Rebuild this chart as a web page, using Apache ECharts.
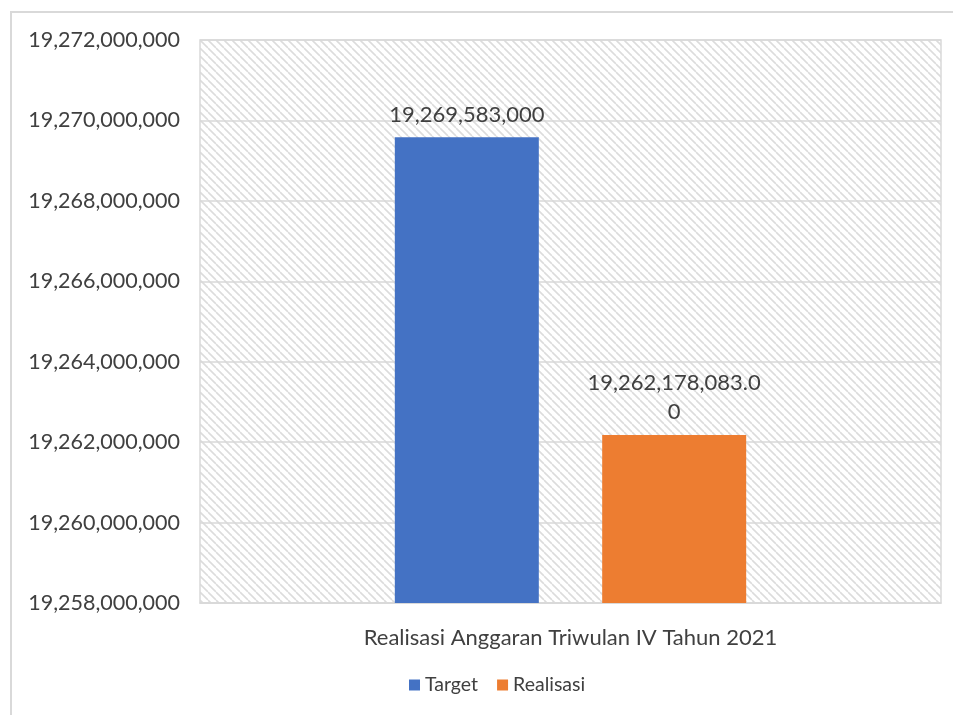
<!DOCTYPE html>
<html>
<head>
<meta charset="utf-8">
<script src="https://cdn.jsdelivr.net/npm/echarts@6/dist/echarts.min.js"></script>
<style>
  html, body { margin: 0; padding: 0; background: #fff; }
  #frame { position: absolute; left: 10px; top: 11px; width: 1200px; height: 1200px; border: 2px solid #d9d9d9; box-sizing: border-box; }
  #chart { position: absolute; left: 0; top: 0; width: 953px; height: 715px; }
</style>
</head>
<body>
<div id="frame"></div>
<div id="chart"></div>
<script>
const categories = ['Realisasi Anggaran Triwulan IV Tahun 2021'];
const seriesNames = ['Target', 'Realisasi'];
const targetValues = [19269583000];
const realisasiValues = [19262178083.00];
const yMin = 19258000000, yMax = 19272000000, yStep = 2000000;

function fmtInt(v) { return Math.round(v).toLocaleString('en-US'); }
function fmt2(v) { return v.toLocaleString('en-US', {minimumFractionDigits: 2, maximumFractionDigits: 2}); }

// hatch pattern
const pc = document.createElement('canvas');
pc.width = 8; pc.height = 8;
const ctx = pc.getContext('2d');
ctx.fillStyle = '#ffffff'; ctx.fillRect(0, 0, 8, 8);
ctx.strokeStyle = '#dcdcdc'; ctx.lineWidth = 1.6;
for (let k = -8; k <= 16; k += 8) {
  ctx.beginPath(); ctx.moveTo(k, 0); ctx.lineTo(k + 8, 8); ctx.stroke();
}

const font = 'Lato, "Open Sans", sans-serif';
const chart = echarts.init(document.getElementById('chart'));
chart.setOption({
  animation: false,
  textStyle: { fontFamily: font },
  grid: {
    left: 200, right: 12, top: 40, bottom: 112,
    show: true, backgroundColor: { image: pc, repeat: 'repeat' },
    borderColor: '#d9d9d9', borderWidth: 1.5
  },
  legend: {
    bottom: 15, left: 404, itemWidth: 11, itemHeight: 11, itemGap: 19,
    icon: 'rect',
    textStyle: { fontSize: 19.5, color: '#404040', fontFamily: font },
    data: seriesNames
  },
  xAxis: {
    type: 'category', data: categories,
    axisTick: { show: false },
    axisLine: { lineStyle: { color: '#d9d9d9', width: 1.5 } },
    axisLabel: { fontSize: 22, color: '#404040', margin: 24, fontFamily: font }
  },
  yAxis: {
    type: 'value', min: yMin, max: yMax, interval: yStep,
    axisLine: { show: false }, axisTick: { show: false },
    splitLine: { lineStyle: { color: '#d9d9d9', width: 1.5 } },
    axisLabel: { fontSize: 21.5, color: '#404040', margin: 20, fontFamily: font, formatter: v => fmtInt(v) }
  },
  series: [
    {
      name: seriesNames[0], type: 'bar', data: targetValues, barWidth: 144, barGap: '44%',
      itemStyle: { color: '#4472C4' },
      label: { show: true, position: 'top', distance: 11, fontSize: 22, color: '#404040', fontFamily: font, formatter: p => fmtInt(p.value) }
    },
    {
      name: seriesNames[1], type: 'bar', data: realisasiValues, barWidth: 144,
      itemStyle: { color: '#ED7D31' },
      label: { show: true, position: 'top', distance: 9, fontSize: 22, color: '#404040', fontFamily: font, lineHeight: 29,
        width: 180, overflow: 'breakAll', formatter: p => fmt2(p.value) }
    }
  ]
});
</script>
</body>
</html>
